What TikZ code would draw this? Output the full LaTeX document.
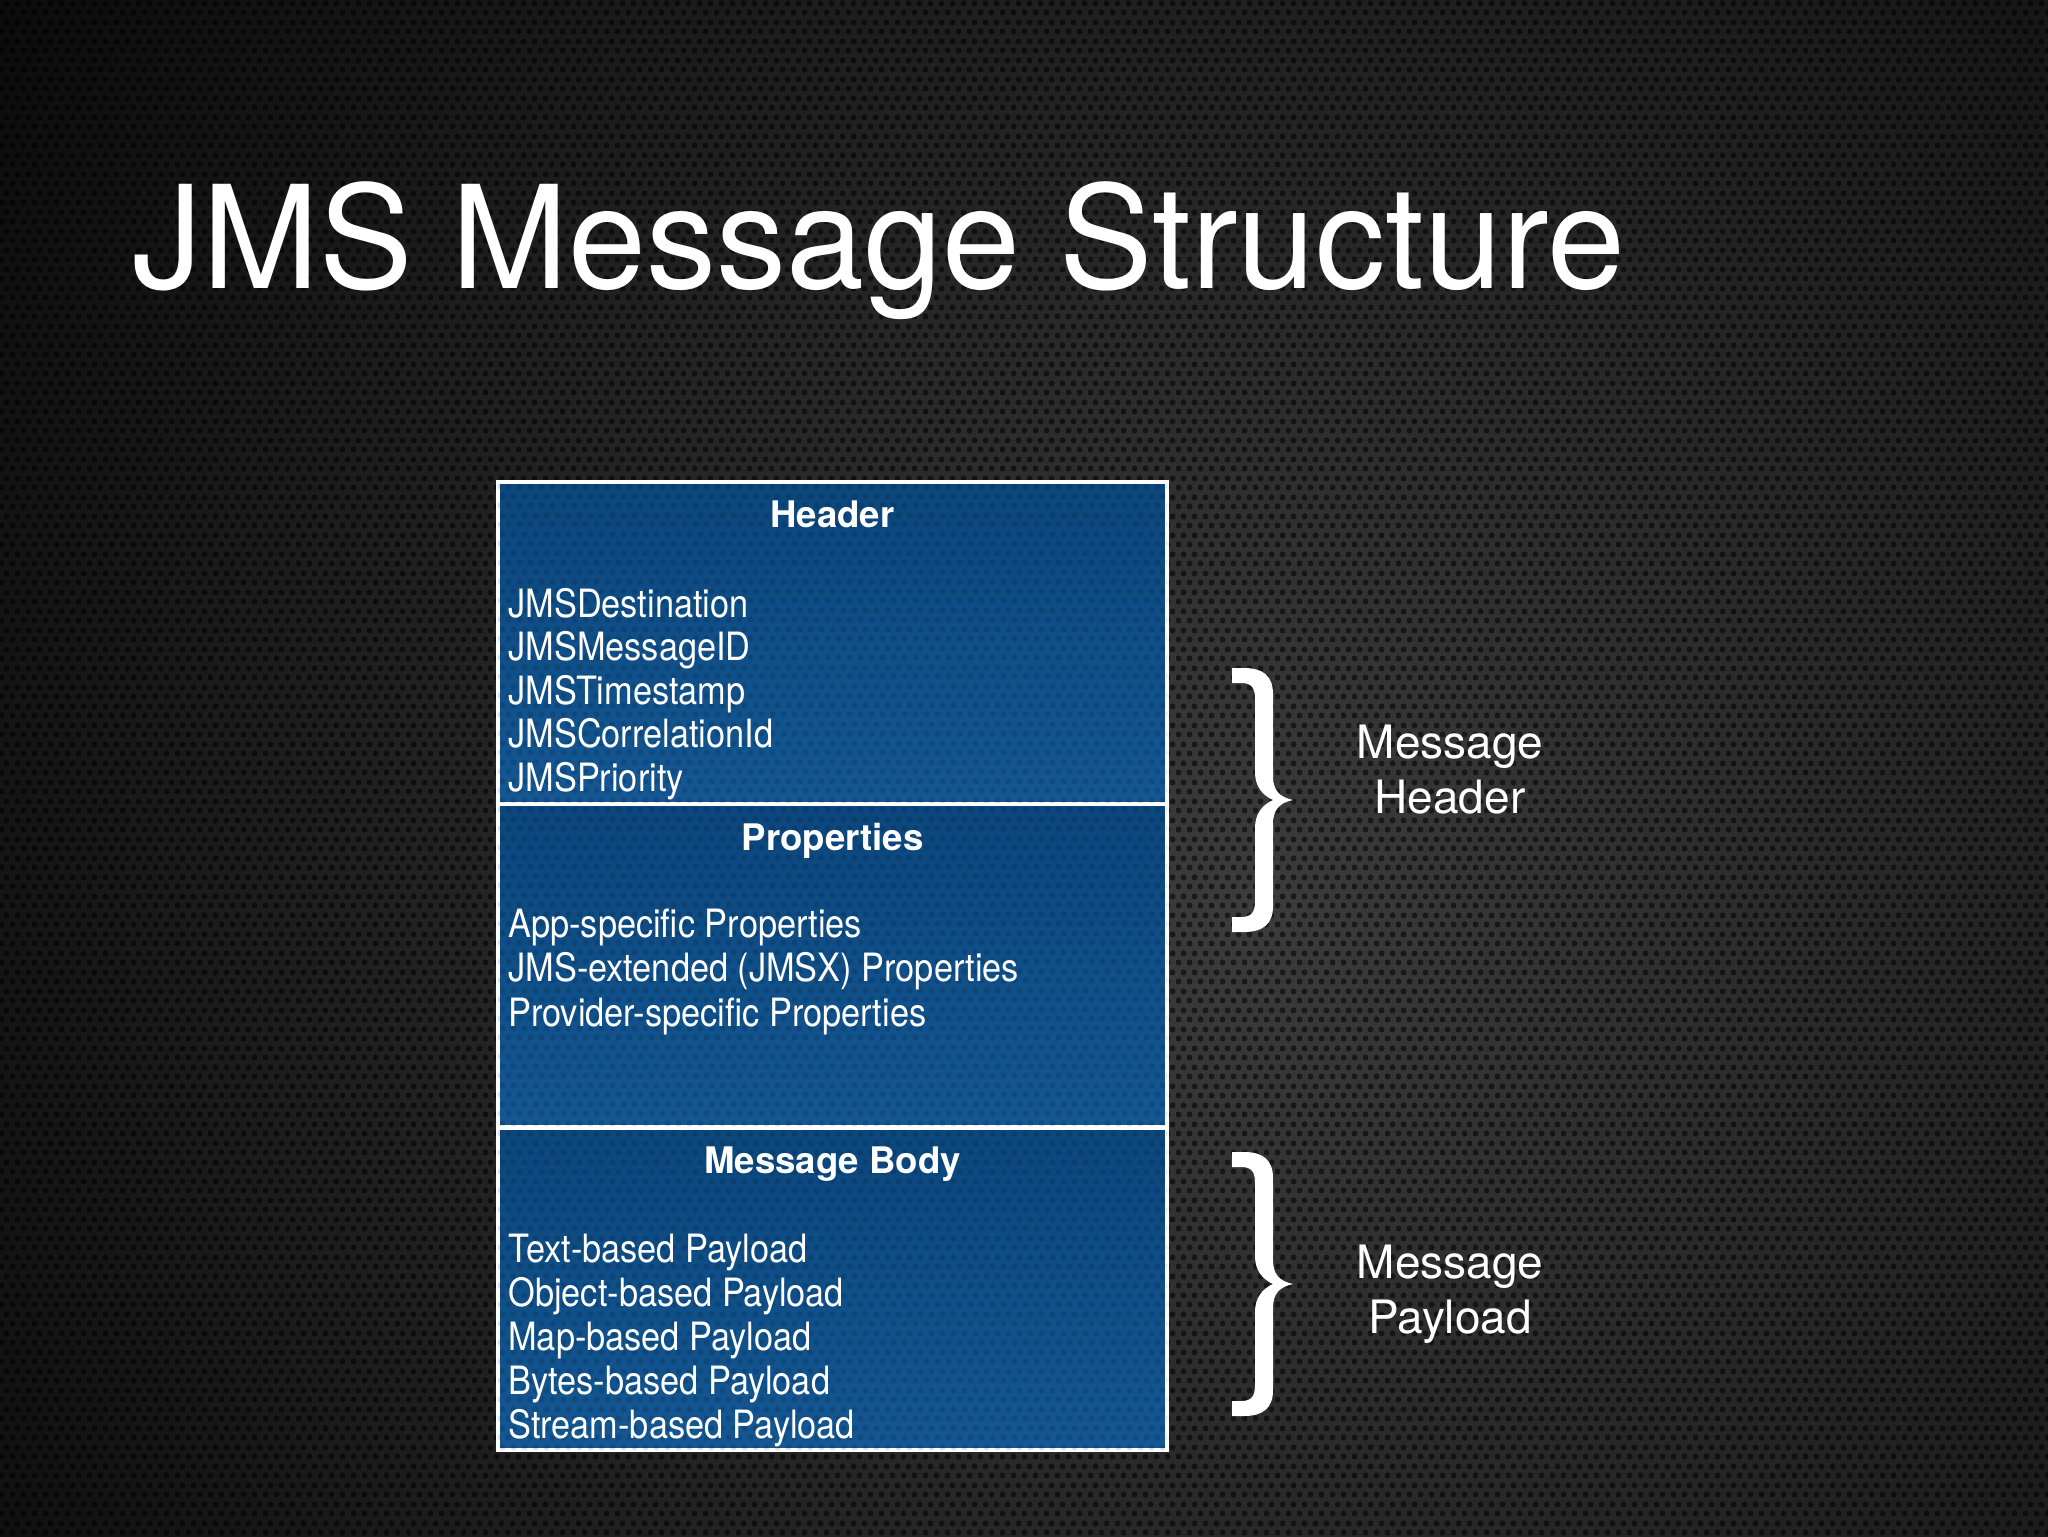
\documentclass[tikz,border=0pt]{standalone}
\usepackage{fontspec}
\setmainfont{TeX Gyre Heros}
\newfontfamily\titlefont[FakeStretch=0.98]{TeX Gyre Heros}
\newfontfamily\itemfont[FakeStretch=0.88]{TeX Gyre Heros}
\usetikzlibrary{patterns.meta}
\definecolor{bgin}{HTML}{3C3C3C}
\definecolor{bgout}{HTML}{080808}
\definecolor{boxtop}{HTML}{0B467C}
\definecolor{boxbot}{HTML}{145793}
\tikzdeclarepattern{
  name=holes,
  type=uncolored,
  bounding box={(0pt,0pt) and (5.5pt,9.5pt)},
  tile size={(5.5pt,9.5pt)},
  code={
    \fill (1.375pt,2.375pt) circle (1.6pt);
    \fill (4.125pt,7.125pt) circle (1.6pt);
  }
}
\tikzset{
  secbox/.style={draw=white, line width=1.75pt, top color=boxtop, bottom color=boxbot,
    minimum width=334.5pt, minimum height=161pt, inner sep=0pt,
    postaction={pattern=holes, pattern color=black, fill opacity=0.12}},
  sechead/.style={anchor=base, text=white, inner sep=0pt, font=\bfseries\fontsize{18.3}{21}\selectfont},
  secitem/.style={anchor=base west, text=white, inner sep=0pt, font=\itemfont\fontsize{19.5}{22}\selectfont},
  sidelabel/.style={anchor=base, text=white, inner sep=0pt, align=center, font=\fontsize{23}{27.5}\selectfont},
  bracepic/.pic={
    \fill[white] (0,0) -- (12,0) .. controls (31,0) and (41,8) .. (41,26) -- (41,108)
      .. controls (41,122) and (47,129) .. (61,132)
      .. controls (47,135) and (41,142) .. (41,156) -- (41,238)
      .. controls (41,256) and (31,264) .. (12,264) -- (0,264) -- (0,249) -- (9,249)
      .. controls (19,249) and (23,245) .. (23,233) -- (23,160)
      .. controls (23,146) and (30,137) .. (41,132)
      .. controls (30,127) and (23,118) .. (23,104) -- (23,31)
      .. controls (23,19) and (19,15) .. (9,15) -- (0,15) -- cycle;
  }
}
\begin{document}
\begin{tikzpicture}[x=0.5pt,y=-0.5pt]
\useasboundingbox (0,0) rectangle (2048,1536);
% background
\begin{scope}
\clip (-10,-10) rectangle (2058,1546);
\fill[bgout] (-10,-10) rectangle (2058,1546);
\shade[inner color=bgin, outer color=bgout] (1250,900) circle (1650);
\fill[pattern=holes, pattern color=black, fill opacity=0.55] (-10,-10) rectangle (2058,1546);
\end{scope}
% title
\node[anchor=base west, text=white, inner sep=0pt, font=\titlefont\fontsize{71.5}{80}\selectfont] (title) at (132,288) {JMS Message Structure};
% sections
\node[secbox] (hdr) at (832.5,643) {};
\node[secbox] (props) at (832.5,965.5) {};
\node[secbox] (body) at (832.5,1289) {};
\node[sechead] (hdrt) at (832.5,527) {Header};
\node[sechead] (propst) at (832.5,850) {Properties};
\node[sechead] (bodyt) at (832.5,1173) {Message Body};
\node[secitem] (h1) at (508,617) {JMSDestination};
\node[secitem] (h2) at (508,660.5) {JMSMessageID};
\node[secitem] (h3) at (508,704) {JMSTimestamp};
\node[secitem] (h4) at (508,747.5) {JMSCorrelationId};
\node[secitem] (h5) at (508,791) {JMSPriority};
\node[secitem] (p1) at (508,937) {App-specific Properties};
\node[secitem] (p2) at (508,981.5) {JMS-extended (JMSX) Properties};
\node[secitem] (p3) at (508,1026) {Provider-specific Properties};
\node[secitem] (b1) at (508,1262) {Text-based Payload};
\node[secitem] (b2) at (508,1306) {Object-based Payload};
\node[secitem] (b3) at (508,1350) {Map-based Payload};
\node[secitem] (b4) at (508,1394) {Bytes-based Payload};
\node[secitem] (b5) at (508,1438) {Stream-based Payload};
% braces and labels
\pic at (1232,668) {bracepic};
\pic at (1232,1152) {bracepic};
\node[sidelabel] (mh) at (1450,813) {Message\\Header};
\node[sidelabel] (mp) at (1450,1333) {Message\\Payload};
\end{tikzpicture}
\end{document}
